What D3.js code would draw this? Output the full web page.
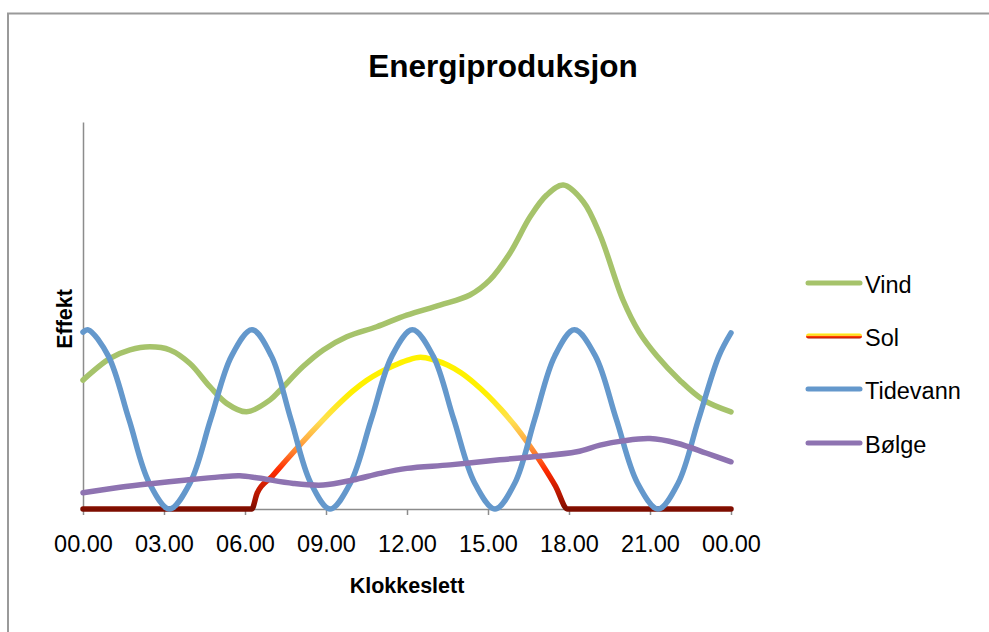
<!DOCTYPE html>
<html>
<head>
<meta charset="utf-8">
<script src="https://cdn.jsdelivr.net/npm/d3@7/dist/d3.min.js"></script>
<style>
  html, body { margin: 0; padding: 0; background: #fff; }
  svg { display: block; }
  text { font-family: "Liberation Sans", Arial, sans-serif; fill: #000; }
</style>
</head>
<body>
<svg id="chart" width="989" height="632"></svg>
<script>
// ---------- data (hours 0..24, relative power units) ----------
const xTickLabels = ["00.00","03.00","06.00","09.00","12.00","15.00","18.00","21.00","00.00"];
const seriesNames = ["Vind","Sol","Tidevann","Bølge"];

const vindHours = [0,1,1.74,2.48,3.22,3.96,4.7,5.32,6.06,6.93,7.3,8.15,8.9,9.77,10.88,11.99,13.22,14.33,15.07,15.81,16.56,17.17,17.79,18.53,19.15,20,20.6,21.25,22.1,22.97,24];
const vindValues = [33.3,38.9,41.1,41.9,41.1,37.6,31.6,27.3,25.1,28.2,30.7,36.8,41.1,44.5,47.1,50.1,52.7,55.3,59.2,66.1,75.5,81.1,83.7,79.4,70.8,54,45.7,39.6,33.3,28.2,25.1];

const solHours = [0,6.25,6.45,7,7.5,8,8.5,9,9.5,10,10.5,11,11.5,12,12.5,13,13.5,14,14.5,15,15.5,16,16.5,17,17.5,17.95,24];
const solValues = [0,0,4.1,8.4,12.4,16.3,20.1,23.8,27.3,30.5,33.2,35.3,37.0,38.4,39.2,38.5,37.2,35.2,32.5,29.3,25.6,21.5,16.8,11.6,5.9,0,0];

const tideHours = [0,0.19,0.94,1.7,2.45,3.2,3.97,4.73,5.5,6.26,6.98,7.7,8.43,9.15,9.91,10.68,11.44,12.2,12.97,13.73,14.5,15.26,16.0,16.73,17.47,18.2,18.98,19.75,20.53,21.3,22.05,22.8,23.55,24];
const tideValues = [45.7,46.3,39.5,23.2,6.8,0,6.8,23.2,39.5,46.3,39.5,23.2,6.8,0,6.8,23.2,39.5,46.3,39.5,23.2,6.8,0,6.8,23.2,39.5,46.3,39.5,23.2,6.8,0,6.8,23.2,39.5,45.5];

const bolgeHours = [0,1.37,2.6,3.84,5.07,5.81,6.5,7.79,8.9,10,11,12,13.59,15.44,16.68,18.29,19.15,20,21,22,23.1,24];
const bolgeValues = [4.2,5.6,6.6,7.5,8.3,8.6,8.0,6.6,6.2,7.5,9.2,10.5,11.4,12.7,13.5,14.8,16.5,17.6,18.2,17,14.4,12.2];

// ---------- layout ----------
const svg = d3.select("#chart");
const plot = {left: 83, right: 731, top: 122, bottom: 509};

const x = d3.scaleLinear().domain([0, 24]).range([plot.left, plot.right]);
const y = d3.scaleLinear().domain([0, 100]).range([plot.bottom, plot.top]);

const colors = {
  Vind: "#a6c36b",
  Tidevann: "#6498cc",
  Bølge: "#8e73b1"
};

// frame
svg.append("path")
  .attr("d", "M8,632 L8,13.5 L989,13.5")
  .attr("fill", "none")
  .attr("stroke", "#9a9a9a")
  .attr("stroke-width", 2);

// title
svg.append("text")
  .attr("x", 503).attr("y", 77)
  .attr("text-anchor", "middle")
  .style("font-weight", "bold")
  .style("font-size", "31.5px")
  .text("Energiproduksjon");

// gradient for Sol (by value)
const defs = svg.append("defs");
const grad = defs.append("linearGradient")
  .attr("id", "solGrad")
  .attr("gradientUnits", "userSpaceOnUse")
  .attr("x1", 0).attr("x2", 0)
  .attr("y1", y(0)).attr("y2", y(40));
[[0, "#7d0d00"], [0.08, "#b01500"], [0.25, "#ff2a00"], [0.36, "#ff7a2a"], [0.45, "#ffb045"], [0.57, "#ffe050"], [0.75, "#fff000"], [1, "#fff200"]]
  .forEach(([o, c]) => grad.append("stop").attr("offset", o).attr("stop-color", c));

const legGrad = defs.append("linearGradient")
  .attr("id", "solLegGrad")
  .attr("x1", 0).attr("x2", 0).attr("y1", 0).attr("y2", 1);
[[0, "#fff000"], [0.45, "#ffd040"], [0.6, "#ff3a00"], [1, "#b01500"]]
  .forEach(([o, c]) => legGrad.append("stop").attr("offset", o).attr("stop-color", c));

// axes
const xAxis = d3.axisBottom(x)
  .tickValues(d3.range(0, 25, 3))
  .tickFormat((d, i) => xTickLabels[i])
  .tickSize(6)
  .tickSizeOuter(0);

const gx = svg.append("g")
  .attr("transform", `translate(0,${plot.bottom})`)
  .call(xAxis);
gx.select(".domain").attr("stroke", "#8c8c8c").attr("stroke-width", 1.5);
gx.selectAll(".tick line").attr("stroke", "#8c8c8c").attr("stroke-width", 1.5);
gx.selectAll(".tick text")
  .attr("y", 26)
  .attr("dy", "0.71em")
  .style("font-size", "23.5px")
  .style("font-family", "'Liberation Sans', Arial, sans-serif")
  .attr("fill", "#000");

const gy = svg.append("g")
  .attr("transform", `translate(${plot.left},0)`)
  .call(d3.axisLeft(y).tickValues([]).tickSizeOuter(0));
gy.select(".domain").attr("stroke", "#8c8c8c").attr("stroke-width", 1.5);

// axis titles
svg.append("text")
  .attr("x", 407).attr("y", 593)
  .attr("text-anchor", "middle")
  .style("font-weight", "bold")
  .style("font-size", "21.5px")
  .text("Klokkeslett");

svg.append("text")
  .attr("transform", "translate(72,319) rotate(-90)")
  .attr("text-anchor", "middle")
  .style("font-weight", "bold")
  .style("font-size", "21.5px")
  .text("Effekt");

// lines
const mk = (hours, vals) => hours.map((h, i) => [h, vals[i]]);
const smooth = d3.line().x(d => x(d[0])).y(d => y(d[1])).curve(d3.curveCatmullRom.alpha(0.5));
const mono = d3.line().x(d => x(d[0])).y(d => y(d[1])).curve(d3.curveMonotoneX);

const g = svg.append("g").attr("fill", "none").attr("stroke-linecap", "round").attr("stroke-linejoin", "round");
const LW = 5.5;

g.append("path").attr("d", smooth(mk(vindHours, vindValues)))
  .attr("stroke", colors.Vind).attr("stroke-width", LW);
g.append("path").attr("d", mono(mk(solHours, solValues)))
  .attr("stroke", "url(#solGrad)").attr("stroke-width", LW);
g.append("path").attr("d", smooth(mk(tideHours, tideValues)))
  .attr("stroke", colors.Tidevann).attr("stroke-width", LW);
g.append("path").attr("d", smooth(mk(bolgeHours, bolgeValues)))
  .attr("stroke", colors.Bølge).attr("stroke-width", LW);

// legend
const legY = [283, 336, 389, 443];
const leg = svg.append("g");
seriesNames.forEach((name, i) => {
  const yy = legY[i];
  if (name === "Sol") {
    leg.append("rect")
      .attr("x", 806).attr("y", yy - 2.5).attr("width", 56).attr("height", 5)
      .attr("rx", 2.5)
      .attr("fill", "url(#solLegGrad)");
  } else {
    leg.append("line")
      .attr("x1", 808).attr("x2", 860)
      .attr("y1", yy).attr("y2", yy)
      .attr("stroke", colors[name])
      .attr("stroke-width", 5)
      .attr("stroke-linecap", "round");
  }
  leg.append("text")
    .attr("x", 865).attr("y", yy + 10)
    .style("font-size", "23.5px")
    .text(name);
});
</script>
</body>
</html>
